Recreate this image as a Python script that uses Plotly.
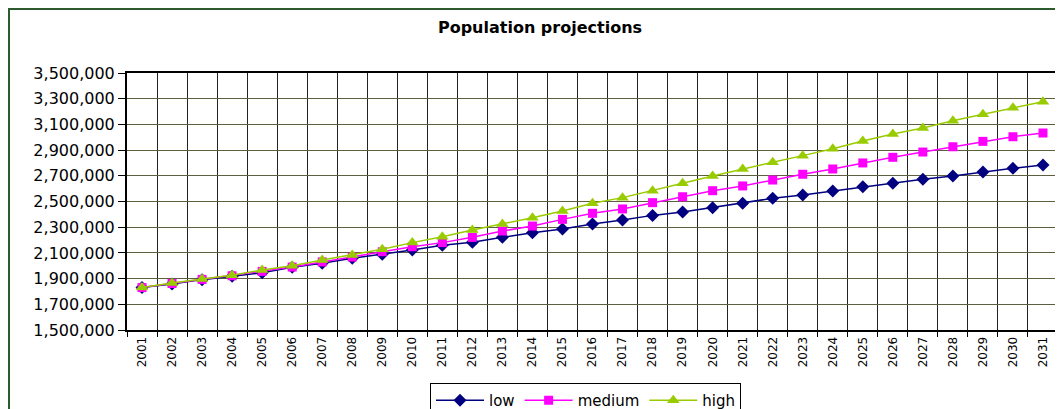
import plotly.graph_objects as go

years = [str(y) for y in range(2001, 2032)]

low = [1830000, 1858000, 1892000, 1918000, 1946000, 1988000, 2019000, 2058000, 2089000, 2123000,
       2159000, 2182000, 2221000, 2257000, 2286000, 2325000, 2356000, 2392000, 2418000, 2452000,
       2486000, 2525000, 2551000, 2582000, 2615000, 2642000, 2673000, 2698000, 2729000, 2758000,
       2784000]
medium = [1830000, 1862000, 1894000, 1922000, 1956000, 1990000, 2030000, 2068000, 2109000, 2148000,
          2180000, 2221000, 2270000, 2309000, 2361000, 2408000, 2442000, 2491000, 2537000, 2584000,
          2621000, 2667000, 2712000, 2753000, 2800000, 2844000, 2885000, 2926000, 2968000, 3004000,
          3033000]
high = [1830000, 1866000, 1896000, 1926000, 1967000, 2000000, 2045000, 2084000, 2128000, 2180000,
        2226000, 2278000, 2325000, 2374000, 2426000, 2486000, 2530000, 2584000, 2642000, 2698000,
        2753000, 2805000, 2857000, 2911000, 2971000, 3025000, 3072000, 3129000, 3179000, 3230000,
        3277000]

y_ticks = list(range(1500000, 3500001, 200000))

FONT = "DejaVu Sans"
OFF = 8  # page body margin
W, H = 1063 - OFF, 409 - OFF
L, R, T, B = 127 - OFF, 1058 - OFF, 73 - OFF, 330 - OFF
PW, PH = R - L, B - T

fig = go.Figure()
fig.add_trace(go.Scatter(x=years, y=low, name="low", mode="lines+markers",
                         line=dict(color="#000080", width=1.5),
                         marker=dict(symbol="diamond", size=10, color="#000080")))
fig.add_trace(go.Scatter(x=years, y=medium, name="medium", mode="lines+markers",
                         line=dict(color="#FF00FF", width=1.5),
                         marker=dict(symbol="square", size=9, color="#FF00FF")))
fig.add_trace(go.Scatter(x=years, y=high, name="high", mode="lines+markers",
                         line=dict(color="#99CC00", width=1.5),
                         marker=dict(symbol="triangle-up", size=11, color="#99CC00")))

fig.update_layout(
    width=W, height=H,
    margin=dict(l=L, r=W - R, t=T, b=H - B, autoexpand=False),
    paper_bgcolor="white", plot_bgcolor="white",
    font=dict(family=FONT, color="black"),
    title=dict(text="<b>Population projections</b>", x=(540 - OFF - L) / PW, xref="paper",
               xanchor="center", y=1 - (27 - OFF) / H, yanchor="middle",
               font=dict(family=FONT, size=16, color="black")),
    showlegend=True,
    legend=dict(orientation="h", x=(585.5 - OFF - L) / PW, xanchor="center",
                y=(B - (383 - OFF)) / PH, yanchor="top",
                bordercolor="black", borderwidth=1, bgcolor="white",
                font=dict(family=FONT, size=15), traceorder="normal",
                itemwidth=48, tracegroupgap=0),
    shapes=[dict(type="rect", xref="paper", yref="paper",
                 x0=(1 - L) / PW, x1=(W + 20 - L) / PW,
                 y0=(B - (H + 20)) / PH, y1=(B - 1) / PH,
                 line=dict(color="#2E5B2E", width=2), layer="below")],
)

fig.update_xaxes(type="category", range=[-0.5, 30.5], tickangle=-90, tickson="boundaries",
                 showgrid=True, gridcolor="#222222", gridwidth=1,
                 showline=True, linecolor="black", linewidth=2, mirror=True,
                 ticks="outside", ticklen=5, tickcolor="black",
                 tickfont=dict(family=FONT, size=12, color="black"), automargin=False)
fig.update_yaxes(range=[1500000, 3500000], tickvals=y_ticks,
                 ticktext=[f"{v:,}" for v in y_ticks],
                 showgrid=True, gridcolor="#5E5E40", gridwidth=1,
                 showline=True, linecolor="black", linewidth=2, mirror=True,
                 ticks="outside", ticklen=7, tickcolor="black",
                 tickfont=dict(family=FONT, size=16, color="black"),
                 zeroline=False, automargin=False)

fig.write_html("out.html")
